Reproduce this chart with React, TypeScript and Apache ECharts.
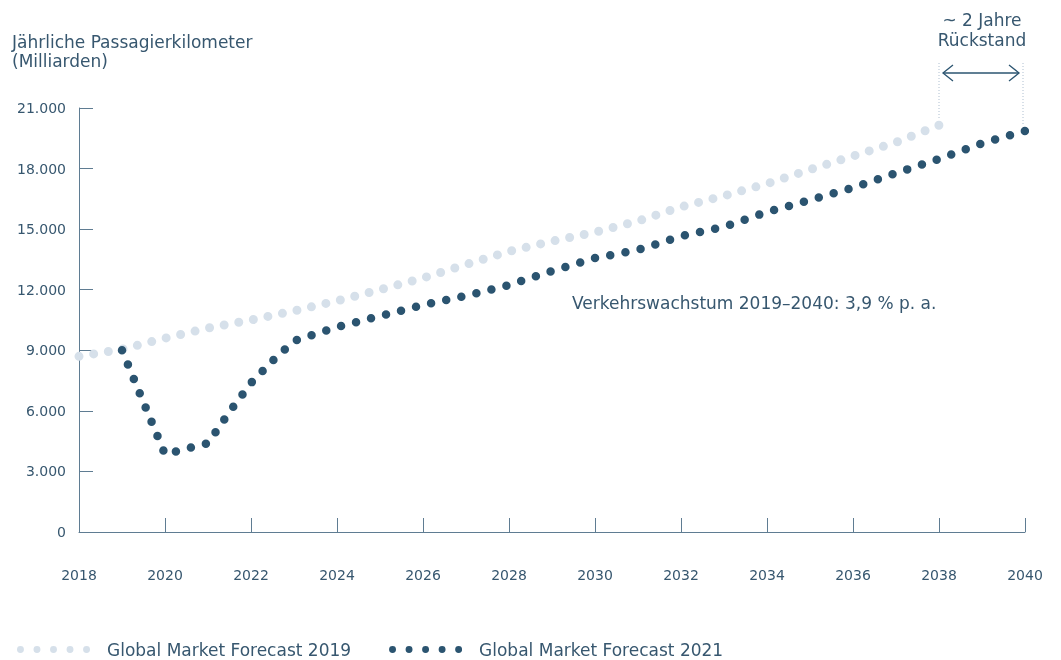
import React, { useEffect, useRef } from "react";
import * as echarts from "echarts";

const xTicks = [2018, 2040, 2];
const yTickLabels = ["0", "3.000", "6.000", "9.000", "12.000", "15.000", "18.000", "21.000"];

const gmf2019Name = "Global Market Forecast 2019";
const gmf2021Name = "Global Market Forecast 2021";

const gmf2019Years = [2018, 2019, 2020, 2021, 2022, 2023, 2024, 2025, 2026, 2027, 2028, 2029, 2030, 2031, 2032, 2033, 2034, 2035, 2036, 2037, 2038];
const gmf2019Values = [8700, 9050, 9600, 10100, 10500, 10950, 11450, 12000, 12580, 13250, 13900, 14400, 14850, 15400, 16100, 16650, 17250, 17950, 18620, 19300, 20150];

const gmf2021Years = [2019, 2020, 2021, 2021.5, 2022, 2022.5, 2023, 2024, 2025, 2026, 2027, 2028, 2029, 2030, 2031, 2032, 2033, 2034, 2035, 2036, 2037, 2038, 2039, 2040];
const gmf2021Values = [9000, 3850, 4400, 5950, 7380, 8480, 9460, 10150, 10700, 11240, 11700, 12230, 12930, 13570, 13970, 14650, 15120, 15850, 16440, 17050, 17780, 18470, 19250, 19860];

const titleLines = ["Jährliche Passagierkilometer", "(Milliarden)"];
const growthNote = "Verkehrswachstum 2019–2040: 3,9 % p. a.";
const lagNote = ["~ 2 Jahre", "Rückstand"];

const TEXT = "#37576f";
const AXIS = "#5f7c92";
const LIGHT = "#d6e0ea";
const DARK = "#2b5470";
const GUIDE = "#aebfd0";
const FONT = "'DejaVu Sans', 'Open Sans', sans-serif";

function dotsIcon(n: number, r: number, step: number) {
  let d = "";
  for (let i = 0; i < n; i++) {
    const cx = r + i * step;
    d += `M${cx - r},${r}a${r},${r} 0 1,0 ${2 * r},0a${r},${r} 0 1,0 ${-2 * r},0Z `;
  }
  return "path://" + d.trim();
}

function pixelLength(chart: any, xs: number[], ys: number[]) {
  let len = 0;
  let prev: number[] | null = null;
  for (let i = 0; i < xs.length; i++) {
    const p = chart.convertToPixel({ gridIndex: 0 }, [xs[i], ys[i]]) as number[];
    if (prev) len += Math.hypot(p[0] - prev[0], p[1] - prev[1]);
    prev = p;
  }
  return len;
}

export default function App() {
  const ref = useRef<HTMLDivElement>(null);
  useEffect(() => {
    const chart = echarts.init(ref.current!, null, { renderer: "svg" });
    const option: any = {
      animation: false,
      grid: { left: 79, right: 36, top: 108, bottom: 128, containLabel: false },
      xAxis: {
        type: "value",
        min: xTicks[0],
        max: xTicks[1],
        interval: xTicks[2],
        axisLine: { show: true, lineStyle: { color: AXIS, width: 1 } },
        axisTick: { show: true, inside: true, length: 14, lineStyle: { color: AXIS } },
        splitLine: { show: false },
        axisLabel: { color: TEXT, fontSize: 14, fontFamily: FONT, margin: 36, formatter: (v: number) => String(v) },
      },
      yAxis: {
        type: "value",
        min: 0,
        max: 21000,
        interval: 3000,
        axisLine: { show: true, lineStyle: { color: AXIS, width: 1 } },
        axisTick: { show: true, inside: true, length: 14, lineStyle: { color: AXIS } },
        splitLine: { show: false },
        axisLabel: {
          color: TEXT,
          fontSize: 14,
          fontFamily: FONT,
          margin: 13,
          formatter: (v: number) => yTickLabels[Math.round(v / 3000)] ?? String(v),
        },
      },
      legend: {
        left: 12,
        top: 636,
        itemWidth: 73,
        itemHeight: 7,
        itemGap: 38,
        selectedMode: false,
        textStyle: { color: TEXT, fontSize: 17, fontFamily: FONT, padding: [0, 0, 0, 12] },
        data: [
          { name: gmf2019Name, icon: dotsIcon(5, 3.6, 17.2), itemStyle: { color: LIGHT, borderWidth: 0 } },
          { name: gmf2021Name, icon: dotsIcon(5, 3.6, 17.2), itemStyle: { color: DARK, borderWidth: 0 } },
        ],
      },
      series: [
        {
          name: gmf2019Name,
          type: "line",
          data: gmf2019Years.map((y, i) => [y, gmf2019Values[i]]),
          showSymbol: false,
          symbol: "none",
          color: LIGHT,
          lineStyle: { color: LIGHT, width: 9, type: [0, 14.8], cap: "round", join: "round" },
          z: 2,
        },
        {
          name: gmf2021Name,
          type: "line",
          data: gmf2021Years.map((y, i) => [y, gmf2021Values[i]]),
          showSymbol: false,
          symbol: "none",
          color: DARK,
          lineStyle: { color: DARK, width: 8.5, type: [0, 15.3], cap: "round", join: "round" },
          z: 3,
        },
      ],
    };
    chart.setOption(option);

    const lenLight = pixelLength(chart, gmf2019Years, gmf2019Values);
    const lenDark = pixelLength(chart, gmf2021Years, gmf2021Values);
    const gapLight = lenLight / Math.round(lenLight / 14.8) - 0.002;
    const gapDark = lenDark / Math.round(lenDark / 15.4) - 0.002;

    const p38 = chart.convertToPixel({ gridIndex: 0 }, [gmf2019Years[gmf2019Years.length - 1], gmf2019Values[gmf2019Values.length - 1]]) as number[];
    const p40 = chart.convertToPixel({ gridIndex: 0 }, [gmf2021Years[gmf2021Years.length - 1], gmf2021Values[gmf2021Values.length - 1]]) as number[];
    const topY = 63;
    const arrowY = 73;
    const midX = (p38[0] + p40[0]) / 2;

    chart.setOption({
      series: [
        { name: gmf2019Name, lineStyle: { type: [0, gapLight] } },
        { name: gmf2021Name, lineStyle: { type: [0, gapDark] } },
      ],
      graphic: [
        {
          type: "text",
          x: 12,
          y: 32,
          style: { text: titleLines.join("\n"), fill: TEXT, font: `17px ${FONT}`, lineHeight: 19, verticalAlign: "top" },
        },
        {
          type: "text",
          x: 572,
          y: 303,
          style: { text: growthNote, fill: TEXT, font: `17px ${FONT}`, verticalAlign: "middle", align: "left" },
        },
        {
          type: "text",
          x: midX,
          y: 10,
          style: { text: lagNote.join("\n"), fill: TEXT, font: `17px ${FONT}`, align: "center", verticalAlign: "top", lineHeight: 20 },
        },
        {
          type: "line",
          shape: { x1: p38[0], y1: topY, x2: p38[0], y2: p38[1] - 6 },
          style: { stroke: GUIDE, lineWidth: 1, lineDash: [1, 2] },
        },
        {
          type: "line",
          shape: { x1: p40[0] - 2, y1: topY, x2: p40[0] - 2, y2: p40[1] - 6 },
          style: { stroke: GUIDE, lineWidth: 1, lineDash: [1, 2] },
        },
        {
          type: "line",
          shape: { x1: p38[0] + 4, y1: arrowY, x2: p40[0] - 6, y2: arrowY },
          style: { stroke: DARK, lineWidth: 1.3 },
        },
        {
          type: "polyline",
          shape: { points: [[p38[0] + 14, arrowY - 8], [p38[0] + 4, arrowY], [p38[0] + 14, arrowY + 8]] },
          style: { stroke: DARK, lineWidth: 1.3, fill: "none" },
        },
        {
          type: "polyline",
          shape: { points: [[p40[0] - 16, arrowY - 8], [p40[0] - 6, arrowY], [p40[0] - 16, arrowY + 8]] },
          style: { stroke: DARK, lineWidth: 1.3, fill: "none" },
        },
      ],
    });

    return () => chart.dispose();
  }, []);
  return <div ref={ref} style={{ position: "fixed", left: 0, top: 0, width: 1061, height: 660 }} />;
}
